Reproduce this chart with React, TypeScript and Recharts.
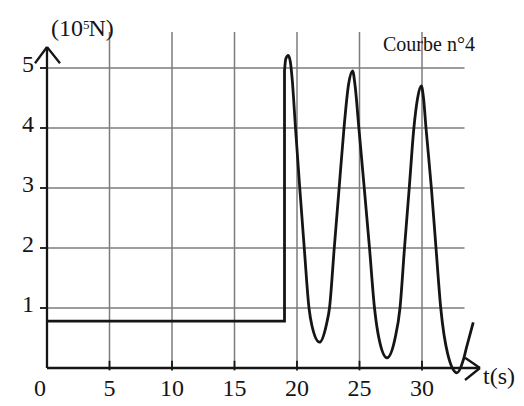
import React from 'react';
import { LineChart, Line, XAxis, YAxis, ReferenceLine } from 'recharts';

// t in seconds, F in 10^5 N
const stepT = [0, 19.0, 19.0];
const stepF = [0.78, 0.78, 4.95];

const waveT = [
  19.0, 19.1, 19.3, 19.47, 19.62, 19.88, 20.22, 20.58, 20.96, 21.2, 21.8, 22.37, 22.6, 22.98, 23.37, 23.76, 24.12,
  24.45, 24.65, 24.95, 25.38, 25.8, 26.2, 26.56, 27.2, 27.84, 28.24, 28.6, 28.98, 29.35, 29.65, 29.95, 30.12, 30.32,
  30.75, 31.12, 31.5, 32.05, 32.8, 33.3, 33.57, 34.1,
];
const waveF = [
  4.95, 5.15, 5.21, 5.1, 4.8, 4.0, 3.0, 2.0, 1.0, 0.7, 0.43, 0.74, 1.0, 2.0, 3.0, 4.0, 4.72,
  4.95, 4.7, 4.0, 3.0, 2.0, 1.0, 0.49, 0.17, 0.49, 1.0, 2.0, 3.0, 4.0, 4.5, 4.7, 4.5, 4.0,
  3.0, 2.0, 1.0, 0.24, -0.08, 0.13, 0.35, 0.76,
];

const xTicks = [0, 5, 10, 15, 20, 25, 30];
const yTicks = [1, 2, 3, 4, 5];

const stepData = stepT.map((t, i) => ({ t, v: stepF[i] }));
const waveData = waveT.map((t, i) => ({ t, v: waveF[i] }));

const font = '"Liberation Serif", "DejaVu Serif", serif';
const gridColor = '#7d7d7d';
const ink = '#151515';

const renderXTick = (props: any) => {
  const { x, y, payload } = props;
  const shift = payload.value === 0 ? -7 : 0;
  return (
    <text x={x + shift} y={y + 9.5} textAnchor="middle" style={{ fontFamily: font, fontSize: 24 }} fill={ink}>
      {payload.value}
    </text>
  );
};

const renderYTick = (props: any) => {
  const { x, y, payload } = props;
  return (
    <text x={x} y={y + 4} textAnchor="end" style={{ fontFamily: font, fontSize: 24 }} fill={ink}>
      {payload.value}
    </text>
  );
};

export default function App() {
  return (
    <div style={{ position: 'absolute', left: 0, top: 0, width: 524, height: 406, background: '#fff' }}>
      <LineChart width={524} height={406} margin={{ top: 32, right: 39.5, left: 7, bottom: 0 }}>
        <XAxis
          dataKey="t"
          type="number"
          domain={[0, 35]}
          ticks={xTicks}
          axisLine={false}
          tickLine={false}
          tickSize={0}
          tickMargin={0}
          height={20}
          tick={renderXTick}
        />
        <YAxis
          type="number"
          domain={[-0.3, 5.6]}
          ticks={yTicks}
          axisLine={false}
          tickLine={{ stroke: ink, strokeWidth: 1.8 }}
          tickSize={7}
          tickMargin={6}
          width={40}
          tick={renderYTick}
        />

        {yTicks.map((v) => (
          <ReferenceLine
            key={'h' + v}
            segment={[{ x: 0, y: v }, { x: 33.4, y: v }]}
            stroke={gridColor}
            strokeWidth={1.5}
            ifOverflow="visible"
          />
        ))}
        {xTicks.slice(1).map((t) => (
          <ReferenceLine
            key={'v' + t}
            segment={[{ x: t, y: 0 }, { x: t, y: 5.6 }]}
            stroke={gridColor}
            strokeWidth={1.5}
            ifOverflow="visible"
          />
        ))}
        {xTicks.slice(1).map((t) => (
          <ReferenceLine
            key={'xt' + t}
            segment={[{ x: t, y: -0.04 }, { x: t, y: 0.12 }]}
            stroke={ink}
            strokeWidth={1.8}
            ifOverflow="visible"
          />
        ))}

        {/* axes with arrow heads */}
        <ReferenceLine segment={[{ x: 0, y: 0 }, { x: 34.64, y: 0 }]} stroke={ink} strokeWidth={2.3} ifOverflow="visible" />
        <ReferenceLine segment={[{ x: 33.44, y: 0.17 }, { x: 34.64, y: 0 }]} stroke={ink} strokeWidth={2.3} ifOverflow="visible" />
        <ReferenceLine segment={[{ x: 33.44, y: -0.2 }, { x: 34.64, y: 0 }]} stroke={ink} strokeWidth={2.3} ifOverflow="visible" />
        <ReferenceLine segment={[{ x: 0, y: 0 }, { x: 0, y: 5.35 }]} stroke={ink} strokeWidth={2.3} ifOverflow="visible" />
        <ReferenceLine segment={[{ x: -0.96, y: 5.08 }, { x: 0, y: 5.35 }]} stroke={ink} strokeWidth={2.3} ifOverflow="visible" />
        <ReferenceLine segment={[{ x: 1.04, y: 5.08 }, { x: 0, y: 5.35 }]} stroke={ink} strokeWidth={2.3} ifOverflow="visible" />

        <Line data={stepData} dataKey="v" type="linear" stroke={ink} strokeWidth={2.8} dot={false} isAnimationActive={false} />
        <Line data={waveData} dataKey="v" type="monotone" stroke={ink} strokeWidth={2.8} dot={false} isAnimationActive={false} />
      </LineChart>

      <div style={{ position: 'absolute', left: 51, top: 13, fontFamily: font, fontSize: 24, color: ink, whiteSpace: 'nowrap', lineHeight: '30px' }}>
        (10<sup style={{ fontSize: 13, verticalAlign: 'top', position: 'relative', top: -3, marginLeft: 0, marginRight: -1 }}>5</sup>N)
      </div>
      <div style={{ position: 'absolute', left: 383, top: 32, fontFamily: font, fontSize: 20, color: ink, whiteSpace: 'nowrap', lineHeight: '24px' }}>
        Courbe n°4
      </div>
      <div style={{ position: 'absolute', left: 483, top: 361, fontFamily: font, fontSize: 24, color: ink, whiteSpace: 'nowrap', lineHeight: '30px' }}>
        t(s)
      </div>
    </div>
  );
}
